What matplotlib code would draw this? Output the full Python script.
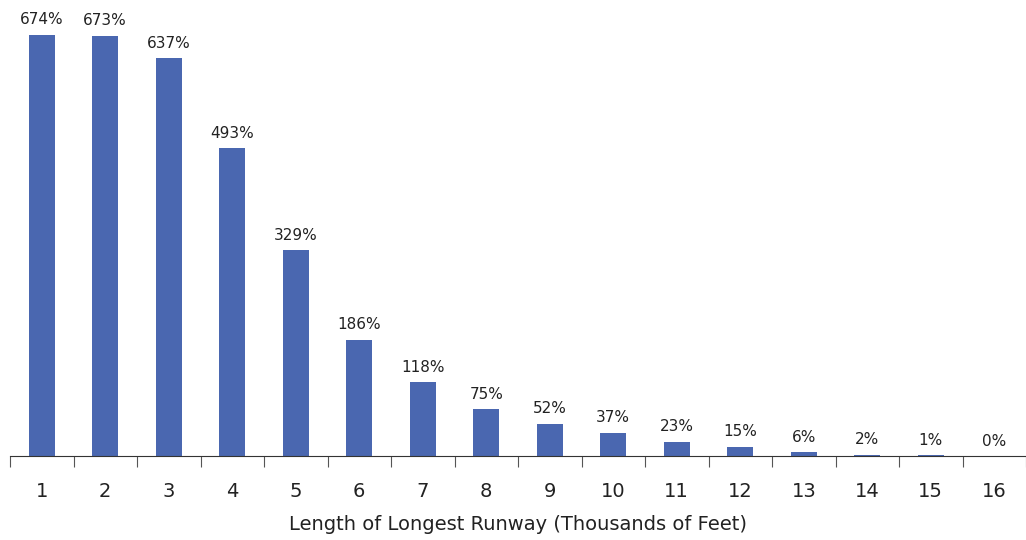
import matplotlib.pyplot as plt

runway_k_ft = list(range(1, 17))
pct_values = [674, 673, 637, 493, 329, 186, 118, 75, 52, 37, 23, 15, 6, 2, 1, 0]

fig = plt.figure(figsize=(10.26, 5.40), dpi=100)
ax = fig.add_axes([10 / 1026, 1 - 456 / 540, 1016 / 1026, 456 / 540])

ax.bar(runway_k_ft, pct_values, width=0.41, color="#4a67b0")
for x, v in zip(runway_k_ft, pct_values):
    ax.text(x, v + 12, f"{v}%", ha="center", va="bottom", fontsize=11, color="#222222")

ax.set_xlim(0.5, 0.5 + 1016 / 63.67)
ax.set_ylim(0, 730)
ax.set_yticks([])
for side in ["top", "right", "left"]:
    ax.spines[side].set_visible(False)
ax.spines["bottom"].set_color("#333333")

# ticks between categories, labels centred under bars
ax.set_xticks([x - 0.5 for x in runway_k_ft] + [16.5])
ax.set_xticklabels([])
ax.set_xticks(runway_k_ft, minor=True)
ax.set_xticklabels([str(x) for x in runway_k_ft], minor=True, fontsize=14, color="#222222")
ax.tick_params(axis="x", which="major", length=8, color="#555555")
ax.tick_params(axis="x", which="minor", length=0, pad=19)

ax.set_xlabel("Length of Longest Runway (Thousands of Feet)", fontsize=14, color="#222222", labelpad=10)

fig.savefig("out.png", dpi=100)
